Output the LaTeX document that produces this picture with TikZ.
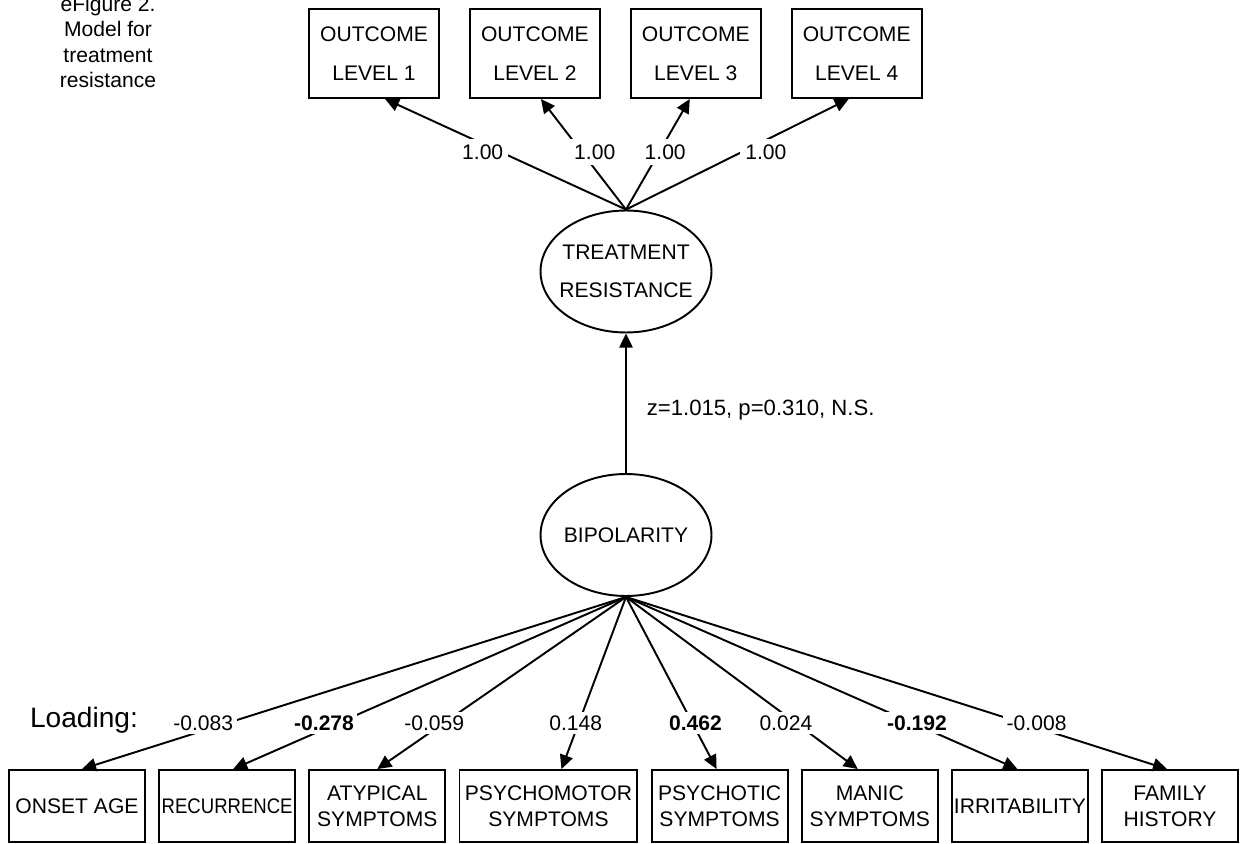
\documentclass[tikz,border=0pt]{standalone}
\usepackage{graphicx}
\usepackage{fontspec}
\setmainfont{Liberation Sans}
\usetikzlibrary{arrows.meta, shapes.geometric, positioning}

\begin{document}
\begin{tikzpicture}[x=0.02cm, y=-0.02cm, line width=1.1pt,
    >={Triangle[length=8pt,width=7.5pt]},
    font=\fontsize{12}{14.6}\selectfont]
  \tikzstyle{outbox}=[draw, rectangle, minimum width=2.6cm, minimum height=1.78cm, align=center, font=\fontsize{12}{22}\selectfont]
  \tikzstyle{itembox}=[draw, rectangle, minimum width=2.72cm, minimum height=1.44cm, inner sep=1pt, align=center, font=\fontsize{12}{14.7}\selectfont]
  \tikzstyle{latent}=[draw, ellipse, minimum width=3.42cm, minimum height=2.44cm, inner xsep=-8pt, inner ysep=0pt, align=center, font=\fontsize{12}{21.5}\selectfont]
  \tikzstyle{coef}=[fill=white, inner sep=3pt, pos=0.52]
  \tikzstyle{load}=[fill=white, inner sep=2pt, pos=0.733]

  \useasboundingbox (0,0) rectangle (1241,844);

  \node[anchor=base, align=center] (caption) at (108,88) {eFigure 2.\\Model for\\treatment\\resistance};

  % outcomes
  \node[outbox] (o1) at (374,53.5) {OUTCOME\\LEVEL 1};
  \node[outbox] (o2) [right=0.58cm of o1] {OUTCOME\\LEVEL 2};
  \node[outbox] (o3) [right=0.58cm of o2] {OUTCOME\\LEVEL 3};
  \node[outbox] (o4) [right=0.58cm of o3] {OUTCOME\\LEVEL 4};

  % latent variables
  \node[latent] (tr) at (626,271.5) {TREATMENT\\RESISTANCE};
  \node[latent] (bp) at (626,535) {BIPOLARITY};

  % indicators
  \node[itembox] (n1) at (77,806) {ONSET AGE};
  \node[itembox] (n2) [right=0.245cm of n1] {\scalebox{0.88}[1]{RECURRENCE}};
  \node[itembox] (n3) [right=0.245cm of n2] {ATYPICAL\\SYMPTOMS};
  \node[itembox, minimum width=3.56cm] (n4) [right=0.245cm of n3] {PSYCHOMOTOR\\SYMPTOMS};
  \node[itembox] (n5) [right=0.245cm of n4] {PSYCHOTIC\\SYMPTOMS};
  \node[itembox] (n6) [right=0.245cm of n5] {MANIC\\SYMPTOMS};
  \node[itembox] (n7) [right=0.245cm of n6] {IRRITABILITY};
  \node[itembox] (n8) [right=0.245cm of n7] {FAMILY\\HISTORY};

  \node[anchor=base, font=\fontsize{16}{19}\selectfont] (loading) at (84,727) {Loading:};

  \path[->]
  (tr.north) edge node[coef, xshift=-0.36cm] {1.00} ([xshift=0.22cm]o1.south)
             edge node[coef, xshift=0.26cm]  {1.00} ([xshift=0.12cm]o2.south)
             edge node[coef, xshift=0.12cm]  {1.00} ([xshift=-0.12cm]o3.south)
             edge node[coef, xshift=0.48cm]  {1.00} ([xshift=-0.16cm]o4.south)
  (bp.north) edge node[pos=0.45, right=0.28cm, font=\fontsize{12.6}{15}\selectfont] {z=1.015, p=0.310, N.S.} (tr.south)
  (bp.south) edge node[load, xshift=-0.48cm] {-0.083}          ([xshift=0.1cm]n1.north)
             edge node[load, xshift=-0.28cm] {\textbf{-0.278}} ([xshift=0.12cm]n2.north)
             edge node[load, xshift=-0.19cm] {-0.059}          (n3.north)
             edge node[load, xshift=-0.06cm] {0.148}           ([xshift=0.26cm]n4.north)
             edge node[load, xshift=0.06cm]  {\textbf{0.462}}  ([xshift=-0.06cm]n5.north)
             edge node[load, xshift=-0.2cm]  {0.024}           ([xshift=-0.24cm]n6.north)
             edge node[load, xshift=0.08cm]  {\textbf{-0.192}} ([xshift=-0.05cm]n7.north)
             edge node[load, xshift=0.28cm]  {-0.008}          ([xshift=-0.06cm]n8.north);
\end{tikzpicture}
\end{document}
